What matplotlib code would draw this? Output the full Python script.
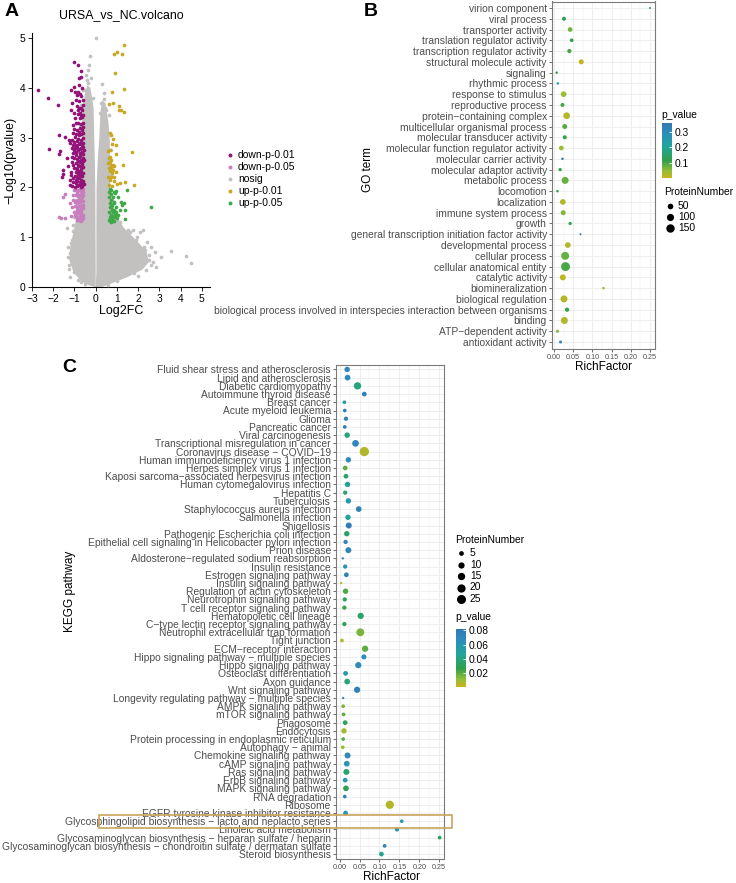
import matplotlib
matplotlib.use("Agg")
import matplotlib.pyplot as plt
import numpy as np
from matplotlib.colors import LinearSegmentedColormap, Normalize
from matplotlib.cm import ScalarMappable
from matplotlib.patches import Rectangle

plt.rcParams['font.family'] = ['Liberation Sans', 'DejaVu Sans']

# ---------------- panel A : volcano (Log2FC, -log10 p) ----------------
down01 = [(-2.73, 3.96), (-2.26, 3.80), (-1.78, 3.65), (-1.71, 3.05), (-1.45, 3.01), (-1.26, 2.95),
          (-2.20, 2.77), (-1.70, 2.74), (-1.71, 2.67), (-1.54, 2.35), (-1.53, 2.27), (-1.37, 2.60),
          (-1.20, 2.90), (-1.13, 2.79), (-1.16, 3.96), (-1.01, 4.52), (-0.85, 4.46), (-0.71, 4.34),
          (-0.69, 4.22), (-1.01, 4.02), (-0.82, 3.92), (-0.63, 3.99), (-0.74, 3.88), (-0.93, 3.75),
          (-0.77, 3.73), (-0.90, 3.63), (-0.80, 3.60), (-0.70, 3.60), (-1.01, 3.49), (-0.82, 3.47),
          (-0.96, 3.39), (-0.74, 3.39), (-1.06, 3.25), (-0.82, 3.29), (-0.74, 3.19), (-0.98, 3.02),
          (-0.86, 2.93), (-1.06, 2.85), (-0.74, 2.89), (-0.62, 3.30), (-0.64, 3.55), (-0.60, 3.10),
          (-1.05, 2.70), (-0.95, 2.72), (-0.85, 2.75), (-0.75, 2.70), (-0.65, 2.72), (-1.00, 2.60),
          (-0.90, 2.58), (-0.80, 2.62), (-0.70, 2.55), (-0.60, 2.60), (-1.10, 2.50), (-0.95, 2.48),
          (-0.85, 2.45), (-0.75, 2.42), (-0.65, 2.47), (-0.58, 2.40), (-1.02, 2.38), (-0.90, 2.35),
          (-0.80, 2.32), (-0.70, 2.30), (-0.60, 2.28), (-1.15, 2.25), (-0.98, 2.22), (-0.88, 2.20),
          (-0.78, 2.18), (-0.68, 2.15), (-0.58, 2.12), (-1.05, 2.10), (-0.93, 2.08), (-0.83, 2.05),
          (-0.73, 2.04), (-0.63, 2.02), (-0.56, 2.06), (-1.20, 2.05), (-0.98, 2.00), (-0.70, 2.00),
          (-0.60, 2.90), (-0.68, 2.80), (-0.92, 2.85), (-0.78, 3.05), (-0.66, 3.15), (-0.88, 3.15),
          (-0.70, 3.45), (-0.62, 3.75), (-1.18, 3.55), (-1.30, 2.42), (-0.80, 4.05), (-0.78, 4.20),
          (-1.57, 2.20), (-0.57, 2.55), (-0.57, 2.75), (-0.59, 3.45), (-1.12, 3.70), (-1.08, 3.10),
          (-1.14, 2.95), (-1.10, 2.62), (-1.18, 2.30), (-1.22, 2.15), (-0.97, 3.92), (-0.90, 3.85),
          (-0.68, 3.83), (-0.60, 3.65), (-0.85, 3.55), (-0.75, 3.50), (-0.63, 3.42), (-0.92, 3.30),
          (-0.68, 3.27), (-0.58, 3.22), (-1.00, 3.18), (-0.80, 3.12), (-0.70, 3.08), (-0.92, 3.07),
          (-0.62, 3.00), (-0.82, 2.97), (-0.68, 2.95), (-1.00, 2.92), (-0.78, 2.88), (-0.66, 2.85),
          (-0.96, 2.80), (-0.86, 2.82), (-0.58, 2.82), (-0.74, 2.78), (-1.02, 2.76), (-0.62, 2.67),
          (-0.92, 2.65), (-0.72, 2.63), (-0.84, 2.52), (-0.62, 2.52), (-0.76, 2.50), (-1.05, 2.45),
          (-0.68, 2.37), (-0.86, 2.38), (-0.95, 2.30), (-0.74, 2.24), (-0.64, 2.22), (-0.84, 2.26),
          (-1.08, 2.18), (-0.95, 2.14), (-0.62, 2.08), (-0.86, 2.12), (-0.76, 2.10), (-1.12, 2.02),
          (-0.88, 2.02), (-0.66, 2.06)]
down05 = [(-1.52, 1.81), (-1.43, 1.87), (-1.65, 1.38), (-1.43, 1.38), (-1.17, 1.43), (-1.20, 1.69),
          (-1.71, 1.40), (-1.00, 1.95), (-0.90, 1.92), (-0.80, 1.95), (-0.70, 1.93), (-0.62, 1.90),
          (-0.95, 1.85), (-0.85, 1.82), (-0.75, 1.85), (-0.65, 1.80), (-0.58, 1.84), (-1.05, 1.75),
          (-0.92, 1.72), (-0.82, 1.74), (-0.72, 1.70), (-0.62, 1.72), (-0.98, 1.62), (-0.88, 1.60),
          (-0.78, 1.63), (-0.68, 1.60), (-0.60, 1.58), (-1.02, 1.50), (-0.90, 1.48), (-0.80, 1.50),
          (-0.70, 1.47), (-0.60, 1.45), (-0.95, 1.40), (-0.85, 1.38), (-0.75, 1.40), (-0.65, 1.36),
          (-0.58, 1.38), (-1.10, 1.60), (-1.08, 1.85), (-0.88, 1.68), (-0.67, 1.52), (-0.95, 1.95),
          (-0.75, 1.97), (-0.66, 1.88), (-0.88, 1.88), (-0.78, 1.76), (-0.68, 1.75), (-0.96, 1.70),
          (-0.86, 1.55), (-0.74, 1.55), (-0.64, 1.65), (-0.98, 1.45), (-0.76, 1.46), (-0.66, 1.43),
          (-0.80, 1.35), (-0.70, 1.33), (-0.90, 1.34), (-0.60, 1.65), (-0.60, 1.97)]
up01 = [(1.33, 4.86), (0.86, 4.67), (0.98, 4.71), (1.24, 4.67), (0.91, 4.29), (1.35, 3.98),
        (0.78, 3.91), (0.62, 3.67), (0.79, 3.70), (1.09, 3.63), (1.20, 3.55), (1.08, 3.55),
        (1.35, 3.51), (0.65, 3.10), (0.70, 3.06), (0.82, 2.97), (0.76, 2.87), (0.95, 2.86),
        (0.68, 2.75), (0.59, 2.74), (0.95, 2.67), (1.70, 2.71), (0.70, 2.45), (0.82, 2.44),
        (0.87, 2.42), (1.27, 2.45), (0.66, 2.32), (0.76, 2.28), (0.95, 2.31), (1.01, 2.07),
        (1.16, 2.08), (1.39, 2.11), (1.81, 2.04), (0.60, 2.20), (0.72, 2.55), (0.63, 2.60),
        (0.65, 2.15), (0.78, 2.02), (0.62, 2.38), (0.88, 2.20), (0.68, 2.50), (0.80, 2.35),
        (0.72, 2.20), (0.62, 2.05), (0.85, 2.12), (0.70, 2.38), (0.66, 2.62), (0.60, 2.48)]
up05 = [(2.58, 1.60), (1.45, 1.95), (0.67, 1.97), (0.72, 1.86), (0.90, 1.88), (0.86, 1.71),
        (1.19, 1.70), (1.31, 1.69), (1.36, 1.55), (1.24, 1.65), (0.67, 1.61), (0.75, 1.55),
        (0.91, 1.45), (0.76, 1.37), (1.07, 1.45), (1.36, 1.36), (0.67, 1.41), (0.82, 1.32),
        (0.97, 1.61), (0.62, 1.80), (0.70, 1.75), (0.80, 1.80), (0.64, 1.50), (0.70, 1.30),
        (0.88, 1.55), (1.00, 1.38), (0.78, 1.65), (0.95, 1.92), (1.12, 1.55), (0.62, 1.35),
        (1.05, 1.80), (0.85, 1.40), (0.64, 1.90), (0.74, 1.95), (0.84, 1.90), (0.68, 1.68),
        (0.88, 1.68), (0.72, 1.45), (0.80, 1.50), (0.94, 1.50), (0.65, 1.32), (0.75, 1.42),
        (0.88, 1.33), (0.70, 1.60)]
nosig = [(0.00, 5.00), (-0.27, 4.63), (-0.37, 4.36), (-0.42, 4.16), (-0.50, 3.95), (-0.45, 3.75),
         (0.31, 4.07), (0.39, 3.78), (0.45, 3.60), (0.28, 3.40), (0.35, 3.25), (3.53, 0.73),
         (4.23, 0.63), (4.47, 0.49), (2.84, 0.41), (2.80, 0.71), (2.24, 1.14), (1.77, 1.14),
         (2.10, 1.10), (1.95, 1.00), (2.40, 0.90), (2.60, 0.80), (2.20, 0.60), (2.50, 0.55),
         (1.90, 0.80), (2.00, 0.40), (3.05, 0.60), (2.70, 0.50), (-1.24, 0.37), (-1.21, 0.69),
         (-1.36, 1.18), (-1.10, 0.95), (-1.30, 0.80), (-1.15, 0.55), (-1.05, 1.25), (-0.95, 1.10),
         (-1.00, 0.30), (1.60, 0.95), (1.45, 1.05), (1.40, 0.70), (1.70, 0.65), (1.55, 0.50),
         (1.30, 0.85), (-0.32, 4.45), (0.25, 3.70), (0.55, 2.95), (0.60, 2.50), (0.70, 1.20),
         (1.10, 1.20), (1.25, 1.00), (2.30, 0.75), (1.85, 0.55), (-0.85, 0.85), (-0.80, 1.20),
         (-1.20, 0.20), (-0.70, 0.10), (-1.30, 0.60), (-1.27, 0.45), (-1.18, 0.88), (-1.08, 1.12),
         (-1.00, 1.40), (-0.90, 1.50), (-0.92, 1.75), (-0.82, 1.95), (-0.80, 2.30), (-0.78, 2.70),
         (-0.72, 3.25), (-0.70, 3.65), (-0.58, 3.95), (-0.45, 4.25), (-0.35, 4.10), (0.70, 2.75),
         (0.72, 2.25), (0.75, 1.75), (1.00, 1.45), (1.15, 1.30), (1.50, 1.15), (1.60, 1.10),
         (1.90, 0.95), (2.25, 0.80), (2.50, 0.65), (2.62, 0.45), (2.35, 0.35), (2.00, 0.22),
         (0.50, 3.55), (0.62, 3.45), (0.38, 3.90), (-0.85, 0.15), (-0.50, 0.06), (0.60, 0.05),
         (1.00, 0.12), (1.80, 0.28), (-0.20, 4.20), (0.18, 3.50), (-0.15, 3.80)]
# dense overlap of nosig points, outlined as the two arms of the V
core_left = [(0.0, 0.0), (-0.3, 0.03), (-0.7, 0.12), (-1.05, 0.3), (-1.25, 0.55), (-1.2, 0.8),
             (-1.1, 1.0), (-0.95, 1.3), (-0.85, 1.6), (-0.75, 2.0), (-0.72, 2.5), (-0.66, 3.0),
             (-0.62, 3.5), (-0.52, 3.85), (-0.40, 4.05), (-0.25, 4.0), (-0.10, 3.6), (-0.07, 3.0),
             (-0.04, 2.5), (-0.02, 2.0), (-0.01, 1.0), (0.0, 0.3)]
core_right = [(0.03, 0.3), (0.03, 1.0), (0.04, 2.0), (0.09, 2.5), (0.17, 3.0), (0.22, 3.5),
              (0.30, 3.75), (0.45, 3.7), (0.6, 3.3), (0.66, 3.0), (0.67, 2.5), (0.67, 2.0),
              (0.9, 1.5), (1.3, 1.2), (1.77, 1.0), (2.1, 0.85), (2.4, 0.7), (2.5, 0.5),
              (2.2, 0.35), (1.5, 0.2), (0.8, 0.08), (0.3, 0.0), (0.0, 0.0)]
volcano_groups = ['down-p-0.01', 'down-p-0.05', 'nosig', 'up-p-0.01', 'up-p-0.05']
volcano_colors = ['#921278', '#C77DBE', '#C3C0C0', '#C9A722', '#3EA947']

# ---------------- panel B : GO enrichment ----------------
go_terms = ['virion component', 'viral process', 'transporter activity', 'translation regulator activity',
            'transcription regulator activity', 'structural molecule activity', 'signaling',
            'rhythmic process', 'response to stimulus', 'reproductive process', 'protein\u2212containing complex',
            'multicellular organismal process', 'molecular transducer activity',
            'molecular function regulator activity', 'molecular carrier activity', 'molecular adaptor activity',
            'metabolic process', 'locomotion', 'localization', 'immune system process', 'growth',
            'general transcription initiation factor activity', 'developmental process', 'cellular process',
            'cellular anatomical entity', 'catalytic activity', 'biomineralization', 'biological regulation',
            'biological process involved in interspecies interaction between organisms', 'binding',
            'ATP\u2212dependent activity', 'antioxidant activity']
go_rich = [0.250, 0.026, 0.042, 0.046, 0.040, 0.071, 0.007, 0.010, 0.025, 0.022, 0.033, 0.028, 0.028,
           0.019, 0.022, 0.016, 0.029, 0.009, 0.023, 0.024, 0.042, 0.069, 0.036, 0.029, 0.030, 0.023,
           0.129, 0.026, 0.034, 0.027, 0.009, 0.017]
go_count = [1, 16, 28, 12, 20, 34, 2, 2, 51, 16, 82, 34, 16, 28, 2, 7, 92, 2, 51, 34, 7, 1, 51, 133,
            175, 59, 2, 92, 20, 92, 5, 5]
go_p = [0.12, 0.12, 0.07, 0.11, 0.10, 0.002, 0.13, 0.22, 0.04, 0.10, 0.02, 0.09, 0.12, 0.04, 0.33,
        0.12, 0.08, 0.13, 0.02, 0.06, 0.12, 0.358, 0.02, 0.08, 0.10, 0.01, 0.05, 0.02, 0.11, 0.02,
        0.06, 0.29]
go_size_breaks = [50, 100, 150]
go_p_breaks = [0.1, 0.2, 0.3]

# ---------------- panel C : KEGG enrichment ----------------
kegg_terms = ['Fluid shear stress and atherosclerosis', 'Lipid and atherosclerosis', 'Diabetic cardiomyopathy',
              'Autoimmune thyroid disease', 'Breast cancer', 'Acute myeloid leukemia', 'Glioma',
              'Pancreatic cancer', 'Viral carcinogenesis', 'Transcriptional misregulation in cancer',
              'Coronavirus disease \u2212 COVID\u221219', 'Human immunodeficiency virus 1 infection',
              'Herpes simplex virus 1 infection', 'Kaposi sarcoma\u2212associated herpesvirus infection',
              'Human cytomegalovirus infection', 'Hepatitis C', 'Tuberculosis',
              'Staphylococcus aureus infection', 'Salmonella infection', 'Shigellosis',
              'Pathogenic Escherichia coli infection', 'Epithelial cell signaling in Helicobacter pylori infection',
              'Prion disease', 'Aldosterone\u2212regulated sodium reabsorption', 'Insulin resistance',
              'Estrogen signaling pathway', 'Insulin signaling pathway', 'Regulation of actin cytoskeleton',
              'Neurotrophin signaling pathway', 'T cell receptor signaling pathway', 'Hematopoietic cell lineage',
              'C\u2212type lectin receptor signaling pathway', 'Neutrophil extracellular trap formation',
              'Tight junction', 'ECM\u2212receptor interaction', 'Hippo signaling pathway \u2212 multiple species',
              'Hippo signaling pathway', 'Osteoclast differentiation', 'Axon guidance', 'Wnt signaling pathway',
              'Longevity regulating pathway \u2212 multiple species', 'AMPK signaling pathway',
              'mTOR signaling pathway', 'Phagosome', 'Endocytosis', 'Protein processing in endoplasmic reticulum',
              'Autophagy \u2212 animal', 'Chemokine signaling pathway', 'cAMP signaling pathway',
              'Ras signaling pathway', 'ErbB signaling pathway', 'MAPK signaling pathway', 'RNA degradation',
              'Ribosome', 'EGFR tyrosine kinase inhibitor resistance',
              'Glycosphingolipid biosynthesis \u2212 lacto and neolacto series', 'Linoleic acid metabolism',
              'Glycosaminoglycan biosynthesis \u2212 heparan sulfate / heparin',
              'Glycosaminoglycan biosynthesis \u2212 chondroitin sulfate / dermatan sulfate',
              'Steroid biosynthesis']
kegg_rich = [0.019, 0.020, 0.045, 0.062, 0.012, 0.013, 0.016, 0.013, 0.019, 0.040, 0.062, 0.022, 0.014,
             0.016, 0.020, 0.014, 0.022, 0.048, 0.021, 0.023, 0.018, 0.015, 0.022, 0.008, 0.014, 0.017,
             0.004, 0.015, 0.013, 0.012, 0.053, 0.012, 0.052, 0.006, 0.064, 0.061, 0.047, 0.015, 0.019,
             0.044, 0.009, 0.009, 0.010, 0.014, 0.011, 0.009, 0.008, 0.020, 0.018, 0.017, 0.014, 0.016,
             0.013, 0.126, 0.015, 0.156, 0.144, 0.251, 0.113, 0.105]
kegg_count = [7, 8, 15, 5, 3, 3, 4, 3, 7, 12, 27, 7, 5, 5, 7, 4, 7, 8, 7, 9, 7, 4, 9, 2, 4, 5, 2, 7,
              4, 4, 10, 4, 18, 3, 10, 6, 10, 5, 8, 10, 2, 3, 3, 5, 7, 3, 3, 9, 8, 9, 5, 8, 3, 20, 5,
              3, 4, 3, 3, 5]
kegg_p = [0.072, 0.068, 0.040, 0.075, 0.055, 0.075, 0.075, 0.080, 0.038, 0.070, 0.005, 0.068, 0.020,
          0.035, 0.045, 0.035, 0.060, 0.075, 0.048, 0.080, 0.035, 0.075, 0.072, 0.082, 0.065, 0.075,
          0.004, 0.022, 0.030, 0.025, 0.035, 0.030, 0.015, 0.005, 0.020, 0.068, 0.068, 0.060, 0.038,
          0.075, 0.080, 0.015, 0.020, 0.030, 0.008, 0.020, 0.010, 0.070, 0.058, 0.035, 0.060, 0.030,
          0.075, 0.005, 0.065, 0.055, 0.060, 0.030, 0.078, 0.045]
kegg_size_breaks = [5, 10, 15, 20, 25]
kegg_p_breaks = [0.02, 0.04, 0.06, 0.08]

# ---------------- drawing ----------------
W, H = 736, 883
fig = plt.figure(figsize=(W / 100, H / 100), dpi=100)


def px_axes(l, t, r, b):
    return fig.add_axes([l / W, 1 - b / H, (r - l) / W, (b - t) / H])


def size_area(v, vmin, vmax, dmin, dmax):
    v = np.asarray(v, dtype=float)
    d = dmin + (dmax - dmin) * np.sqrt(np.clip((v - vmin) / (vmax - vmin), 0, 1))
    return (d * 0.72) ** 2


cmap = LinearSegmentedColormap.from_list(
    'pval', [(0, '#CBB21C'), (0.13, '#93BE38'), (0.32, '#30A04A'), (0.58, '#22A49E'),
             (0.82, '#2D8DBA'), (1, '#3279B2')])
grid_c = '#EBEBEB'
lab_c = '#4D4D4D'

# panel A
axA = px_axes(32, 33, 210, 287)
grey = volcano_colors[2]
for poly in (core_left, core_right):
    px_, py_ = np.array(poly).T
    axA.fill(px_, py_, color=grey, lw=0, zorder=1)
for pts, col in zip([nosig, down05, down01, up01, up05],
                    [grey, volcano_colors[1], volcano_colors[0], volcano_colors[3], volcano_colors[4]]):
    x, y = np.array(pts).T
    axA.scatter(x, y, s=7, color=col, lw=0, zorder=3)
axA.set_xlim(-3, 5.38)
axA.set_ylim(0, 5.1)
axA.set_xticks(range(-3, 6))
axA.set_yticks(range(0, 6))
for s in ['top', 'right']:
    axA.spines[s].set_visible(False)
for s in ['left', 'bottom']:
    axA.spines[s].set_linewidth(0.8)
axA.tick_params(labelsize=7.4, length=3, width=0.6, pad=2)
axA.set_xlabel('Log2FC', fontsize=9, labelpad=1)
axA.set_ylabel('\u2212Log10(pvalue)', fontsize=9, labelpad=2)

# panel B
axB = px_axes(552, 1.5, 655, 348.5)
nB = len(go_terms)
yB = np.arange(nB)
normB = Normalize(0.0, 0.36)
go_smin, go_smax = min(go_count), max(go_count)
axB.scatter(go_rich, yB, s=size_area(go_count, go_smin, go_smax, 2.0, 8.9),
            c=go_p, cmap=cmap, norm=normB, lw=0, zorder=3)
axB.set_xlim(-0.0052, 0.263)
axB.set_ylim(nB - 0.4, -0.6)
axB.set_yticks(yB)
axB.set_yticklabels(go_terms, fontsize=7.4, color=lab_c)
axB.set_xticks([0, 0.05, 0.1, 0.15, 0.2, 0.25])
axB.set_xticklabels(['0.00', '0.05', '0.10', '0.15', '0.20', '0.25'], fontsize=5.2, color=lab_c)
axB.set_xticks([0.025, 0.075, 0.125, 0.175, 0.225], minor=True)

# panel C
axC = px_axes(336, 364.5, 444, 859)
nC = len(kegg_terms)
yC = np.arange(nC)
normC = Normalize(0.0, 0.082)
kg_smin, kg_smax = min(kegg_count), max(kegg_count)
axC.scatter(kegg_rich, yC, s=size_area(kegg_count, kg_smin, kg_smax, 2.3, 9.3),
            c=kegg_p, cmap=cmap, norm=normC, lw=0, zorder=3)
axC.set_xlim(-0.009, 0.262)
axC.set_ylim(nC - 0.4, -0.6)
axC.set_yticks(yC)
axC.set_yticklabels(kegg_terms, fontsize=7.4, color=lab_c)
axC.set_xticks([0, 0.05, 0.1, 0.15, 0.2, 0.25])
axC.set_xticklabels(['0.00', '0.05', '0.10', '0.15', '0.20', '0.25'], fontsize=5.2, color=lab_c)
axC.set_xticks([0.025, 0.075, 0.125, 0.175, 0.225], minor=True)

for ax in (axB, axC):
    ax.grid(True, which='major', color=grid_c, lw=0.6, zorder=0)
    ax.grid(True, which='minor', axis='x', color=grid_c, lw=0.35, zorder=0)
    ax.set_axisbelow(True)
    for s in ax.spines.values():
        s.set_color('#7A7A7A')
        s.set_linewidth(0.8)
    ax.tick_params(which='major', length=2.2, width=0.5, color='#333333', pad=1.5)
    ax.tick_params(which='minor', length=0)

# overlay for titles, legends and annotations (pixel coordinates)
ov = fig.add_axes([0, 0, 1, 1], zorder=10)
ov.set_xlim(0, W)
ov.set_ylim(H, 0)
ov.axis('off')

ov.text(5, 12, 'A', fontsize=14, fontweight='bold', va='center')
ov.text(364, 12, 'B', fontsize=14, fontweight='bold', va='center')
ov.text(62, 367, 'C', fontsize=14, fontweight='bold', va='center')
ov.text(121, 15, 'URSA_vs_NC.volcano', fontsize=8.9, ha='center', va='center')

# volcano legend
for i, (g, col) in enumerate(zip(volcano_groups, volcano_colors)):
    yy = 155 + i * 12
    ov.scatter([229.5], [yy], s=8, color=col, lw=0)
    ov.text(238, yy, g, fontsize=7.5, va='center')

# axis titles B / C
ov.text(603, 367, 'RichFactor', fontsize=8.5, ha='center', va='center')
ov.text(368, 170, 'GO term', fontsize=8.5, rotation=90, ha='center', va='center')
ov.text(392, 877, 'RichFactor', fontsize=8.5, ha='center', va='center')
ov.text(70, 591, 'KEGG pathway', fontsize=8.5, rotation=90, ha='center', va='center')

# B legends
ov.text(661, 115, 'p_value', fontsize=7.4, va='center')
caxB = px_axes(662, 123, 672, 178)
cbB = fig.colorbar(ScalarMappable(norm=normB, cmap=cmap), cax=caxB)
cbB.set_ticks(go_p_breaks)
cbB.set_ticklabels(['0.1', '0.2', '0.3'])
ov.text(664, 192, 'ProteinNumber', fontsize=7.4, va='center')
for i, b in enumerate(go_size_breaks):
    yy = 206 + i * 11
    ov.scatter([670], [yy], s=size_area(b, go_smin, go_smax, 2.0, 8.9), color='black', lw=0)
    ov.text(678, yy, str(b), fontsize=7.4, va='center')

# C legends
ov.text(455, 540, 'ProteinNumber', fontsize=7.4, va='center')
for i, b in enumerate(kegg_size_breaks):
    yy = 553 + i * 11.5
    ov.scatter([461], [yy], s=size_area(b, kg_smin, kg_smax, 2.3, 9.3), color='black', lw=0)
    ov.text(470, yy, str(b), fontsize=7.4, va='center')
ov.text(455, 617, 'p_value', fontsize=7.4, va='center')
caxC = px_axes(456, 629, 466, 687)
cbC = fig.colorbar(ScalarMappable(norm=normC, cmap=cmap), cax=caxC)
cbC.set_ticks(kegg_p_breaks)
cbC.set_ticklabels(['0.02', '0.04', '0.06', '0.08'])

for cb in (cbB, cbC):
    cb.outline.set_visible(False)
    cb.ax.tick_params(length=2, width=0.6, color='white', direction='in', labelsize=7.4, pad=2)

# highlight box around one KEGG row
ov.add_patch(Rectangle((99, 815), 353, 12.5, fill=False, ec='#C9A35A', lw=1.2))

fig.savefig('out.png', dpi=100)
